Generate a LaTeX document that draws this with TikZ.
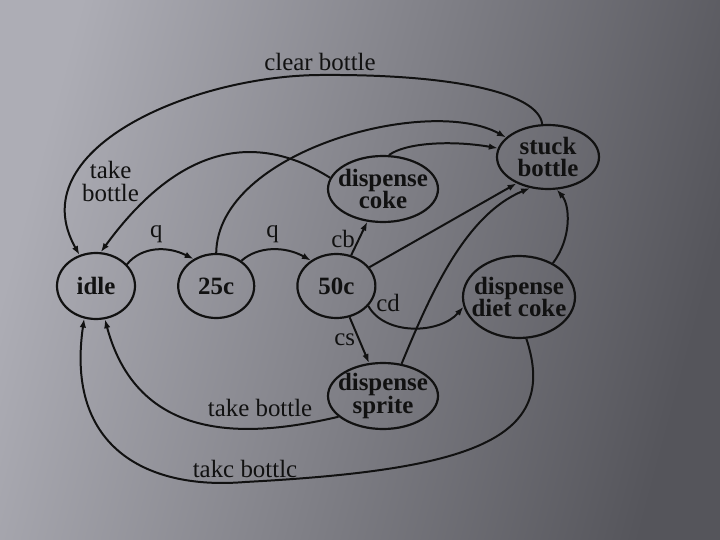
\documentclass[tikz,border=0pt]{standalone}
\usepackage{fontspec}
\setmainfont{Liberation Serif}
\usetikzlibrary{arrows.meta,positioning,shapes.geometric}
\definecolor{bglight}{HTML}{ADADB5}
\definecolor{bgmid}{HTML}{838389}
\definecolor{bgdark}{HTML}{55555B}
\definecolor{ink}{HTML}{111111}
\begin{document}
\begin{tikzpicture}[x=1bp,y=-1bp,
      state/.style={draw=ink,ellipse,line width=2.2pt,inner sep=-12pt,align=center,
        text=ink,font=\bfseries\fontsize{25}{23}\selectfont},
      lbl/.style={text=ink,font=\fontsize{25}{23}\selectfont},
      arr/.style={-{Latex[length=9pt,width=6.5pt]},line width=2pt,draw=ink}]
    \shade[top color=bglight,middle color=bgmid,bottom color=bgdark,shading angle=75]
      (0,0) rectangle (720,540);
    \node[state,minimum width=78bp,minimum height=66bp] (idle) at (96,286) {idle};
    \node[state,minimum width=76bp,minimum height=64bp,right=41bp of idle] (q25) {25c};
    \node[state,minimum width=78bp,minimum height=64bp,right=41bp of q25] (q50) {50c};
    \node[state,minimum width=110bp,minimum height=66bp] (coke) at (383,189) {dispense\\coke};
    \node[state,minimum width=102bp,minimum height=64bp] (stuck) at (548,157) {stuck\\bottle};
    \node[state,minimum width=112bp,minimum height=82bp] (diet) at (519,297) {dispense\\diet coke};
    \node[state,minimum width=110bp,minimum height=66bp] (sprite) at (383,396) {dispense\\sprite};
    \coordinate (clearmid) at (320,75);
    \coordinate (takcmid) at (245,482);
    \draw[arr] (idle.35) .. controls (142,246) and (168,246) .. (q25.130)
      node[lbl,pos=0.5,above=3pt] {q};
    \draw[arr] (q25.45) .. controls (258,246) and (285,246) .. (q50.135)
      node[lbl,pos=0.5,above=3pt] {q};
    \draw[arr] (q50) -- (coke) node[lbl,midway,left] {cb};
    \draw[arr] (q50) -- (sprite) node[lbl,midway,left] {cs};
    \draw[arr] (q50.-32) .. controls (385,336) and (440,334) .. (diet.190)
      node[lbl,pos=0.1,anchor=south west,inner sep=1pt] {cd};
    \draw[arr] (q50) -- (stuck.220);
    \draw[arr] (sprite.60) .. controls (430,295) and (465,215) .. (stuck.240);
    \draw[arr] (diet.45) .. controls (572,238) and (570,205) .. (stuck.285);
    \draw[arr] (coke.80) .. controls (405,143) and (450,140) .. (stuck.170);
    \draw[arr] (q25.90) .. controls (218,150) and (430,95) .. (stuck.155);
    \draw[arr] (stuck.100) .. controls (538,92) and (450,74) .. (clearmid)
      node[lbl,above] {clear bottle}
      .. controls (190,76) and (20,150) .. (idle.118);
    \draw[arr] (coke.168) .. controls (270,140) and (190,130) .. (idle.82)
      node[lbl,pos=0.78,left=15pt,yshift=8pt,align=center] {take\\bottle};
    \draw[arr] (sprite.205) .. controls (260,435) and (140,450) .. (idle.285)
      node[lbl,pos=0.3,above=7pt] {take bottle};
    \draw[arr] (diet.-80) .. controls (560,440) and (470,470) .. (takcmid)
      node[lbl,above] {takc bottlc}
      .. controls (150,490) and (65,450) .. (idle.250);
\end{tikzpicture}
\end{document}
